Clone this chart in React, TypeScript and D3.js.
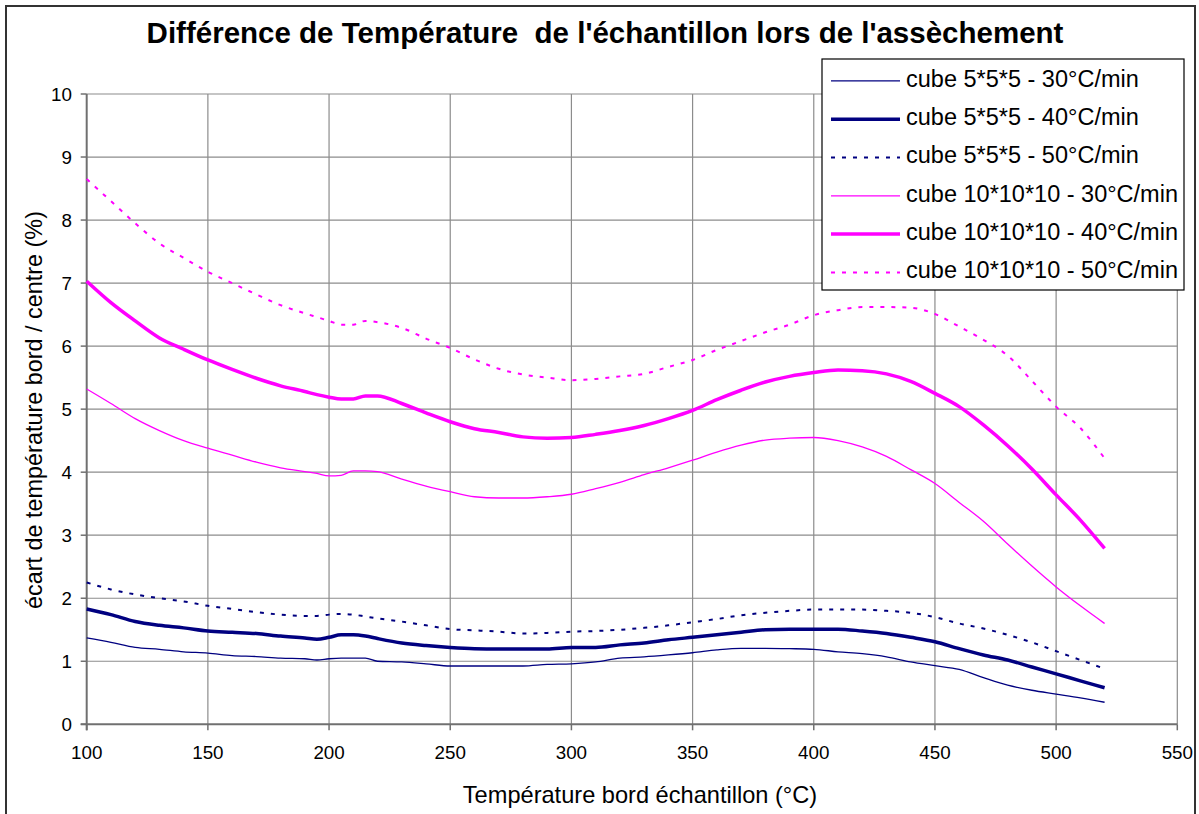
import React from "react";
import * as d3 from "d3";

const temps = [100,110,120,130,140,150,160,170,180,190,195,200,205,210,215,220,230,240,250,260,270,280,290,300,310,320,330,340,350,360,370,380,390,400,410,420,430,440,450,460,470,480,490,500,510,520];

const cube5_30 = [1.37,1.30,1.22,1.19,1.15,1.13,1.09,1.075,1.05,1.04,1.02,1.04,1.05,1.05,1.05,1.00,0.99,0.96,0.925,0.925,0.925,0.925,0.95,0.96,0.99,1.05,1.07,1.10,1.135,1.18,1.205,1.205,1.20,1.19,1.15,1.12,1.07,0.99,0.93,0.87,0.74,0.62,0.54,0.48,0.42,0.35];
const cube5_40 = [1.83,1.74,1.63,1.57,1.53,1.48,1.46,1.44,1.40,1.37,1.35,1.38,1.42,1.42,1.40,1.36,1.29,1.25,1.22,1.20,1.195,1.195,1.195,1.22,1.22,1.26,1.29,1.34,1.38,1.42,1.46,1.50,1.51,1.51,1.51,1.48,1.44,1.38,1.31,1.20,1.10,1.02,0.91,0.80,0.69,0.58];
const cube5_50 = [2.25,2.14,2.06,2.00,1.95,1.88,1.83,1.78,1.74,1.72,1.72,1.74,1.75,1.74,1.71,1.68,1.63,1.57,1.51,1.49,1.47,1.44,1.45,1.47,1.48,1.50,1.53,1.57,1.62,1.67,1.73,1.77,1.80,1.82,1.82,1.82,1.80,1.77,1.70,1.60,1.52,1.42,1.30,1.16,1.02,0.88];
const cube10_30 = [5.32,5.09,4.85,4.66,4.50,4.38,4.27,4.16,4.07,4.01,3.98,3.94,3.95,4.02,4.02,4.01,3.89,3.78,3.69,3.61,3.59,3.59,3.61,3.65,3.74,3.84,3.96,4.07,4.19,4.32,4.43,4.51,4.54,4.55,4.50,4.40,4.25,4.04,3.82,3.52,3.22,2.86,2.51,2.18,1.88,1.60];
const cube10_40 = [7.03,6.69,6.40,6.13,5.95,5.78,5.63,5.49,5.37,5.28,5.23,5.19,5.16,5.16,5.21,5.21,5.09,4.94,4.80,4.69,4.63,4.56,4.54,4.55,4.60,4.66,4.74,4.85,4.98,5.15,5.30,5.43,5.52,5.58,5.62,5.61,5.56,5.44,5.25,5.04,4.75,4.42,4.05,3.64,3.24,2.79];
const cube10_50 = [8.65,8.30,7.95,7.63,7.40,7.18,7.00,6.82,6.65,6.52,6.46,6.40,6.34,6.34,6.40,6.38,6.29,6.12,5.97,5.79,5.64,5.55,5.50,5.46,5.48,5.52,5.56,5.67,5.78,5.94,6.08,6.22,6.34,6.49,6.57,6.62,6.62,6.61,6.51,6.31,6.10,5.85,5.45,5.04,4.70,4.22];

const seriesNames = [
  "cube 5*5*5 - 30°C/min",
  "cube 5*5*5 - 40°C/min",
  "cube 5*5*5 - 50°C/min",
  "cube 10*10*10 - 30°C/min",
  "cube 10*10*10 - 40°C/min",
  "cube 10*10*10 - 50°C/min",
];
const seriesValues = [cube5_30, cube5_40, cube5_50, cube10_30, cube10_40, cube10_50];

const xTicks = [100,150,200,250,300,350,400,450,500,550];
const yTicks = [0,1,2,3,4,5,6,7,8,9,10];

const NAVY = "#000080";
const MAGENTA = "#FF00FF";
const styles = [
  { color: NAVY, width: 1.3, dash: null },
  { color: NAVY, width: 3.5, dash: null },
  { color: NAVY, width: 2, dash: "4 7" },
  { color: MAGENTA, width: 1.3, dash: null },
  { color: MAGENTA, width: 3.5, dash: null },
  { color: MAGENTA, width: 2, dash: "4 7" },
];

const FONT = "'Liberation Sans', Arial, sans-serif";

export default function App() {
  const W = 1199, H = 814;
  const x = d3.scaleLinear().domain([100, 550]).range([86.7, 1177.3]);
  const y = d3.scaleLinear().domain([0, 10]).range([724.3, 94]);
  const line = d3
    .line<number>()
    .x((_, i) => x(temps[i]))
    .y((d) => y(d))
    .curve(d3.curveMonotoneX);

  const legX = 822, legY = 59, legW = 362, legH = 231;
  const rowBase = (i: number) => 86.7 + i * 38.3;

  return (
    <svg
      width={W}
      height={H}
      style={{ position: "absolute", left: 0, top: 0, display: "block" }}
      fontFamily={FONT}
    >
      <rect x={0} y={0} width={W} height={H} fill="#fff" />
      <rect x={6} y={6} width={1189} height={830} fill="#fff" stroke="#333" strokeWidth={2} />

      {/* title */}
      <text
        x={605}
        y={43.3}
        textAnchor="middle"
        fontSize={29.5}
        fontWeight="bold"
        fill="#000"
        style={{ whiteSpace: "pre" }}
      >
        {"Différence de Température  de l'échantillon lors de l'assèchement"}
      </text>

      {/* gridlines */}
      {yTicks.filter((t) => t > 0).map((t) => (
        <line key={"gy" + t} x1={x(100)} x2={x(550)} y1={y(t)} y2={y(t)} stroke="#8c8c8c" strokeWidth={1.2} />
      ))}
      {xTicks.filter((t) => t > 100).map((t) => (
        <line key={"gx" + t} x1={x(t)} x2={x(t)} y1={y(0)} y2={y(10)} stroke="#8c8c8c" strokeWidth={1.2} />
      ))}

      {/* axes */}
      <line x1={x(100)} x2={x(100)} y1={y(0) + 6} y2={y(10)} stroke="#707070" strokeWidth={2} />
      <line x1={x(100) - 6} x2={x(550)} y1={y(0)} y2={y(0)} stroke="#707070" strokeWidth={2} />
      {yTicks.map((t) => (
        <g key={"ty" + t}>
          <line x1={x(100) - 6} x2={x(100)} y1={y(t)} y2={y(t)} stroke="#707070" strokeWidth={1.5} />
          <text x={72} y={y(t) + 6.5} textAnchor="end" fontSize={18.8} fill="#000">
            {t}
          </text>
        </g>
      ))}
      {xTicks.map((t) => (
        <g key={"tx" + t}>
          <line x1={x(t)} x2={x(t)} y1={y(0)} y2={y(0) + 6} stroke="#707070" strokeWidth={1.5} />
          <text x={x(t)} y={759} textAnchor="middle" fontSize={18.8} fill="#000">
            {t}
          </text>
        </g>
      ))}

      {/* axis titles */}
      <text x={640} y={802.7} textAnchor="middle" fontSize={23.6} fill="#000">
        Température bord échantillon (°C)
      </text>
      <text
        transform={`translate(42,410) rotate(-90)`}
        textAnchor="middle"
        fontSize={23.4}
        fill="#000"
      >
        écart de température bord / centre (%)
      </text>

      {/* series */}
      {seriesValues.map((vals, i) => (
        <path
          key={"s" + i}
          d={line(vals) || ""}
          fill="none"
          stroke={styles[i].color}
          strokeWidth={styles[i].width}
          strokeDasharray={styles[i].dash || undefined}
          strokeLinejoin="round"
        />
      ))}

      {/* legend */}
      <rect x={legX} y={legY} width={legW} height={legH} fill="#fff" stroke="#000" strokeWidth={1.2} />
      {seriesNames.map((name, i) => (
        <g key={"l" + i}>
          <line
            x1={831}
            x2={900}
            y1={rowBase(i) - 5.8}
            y2={rowBase(i) - 5.8}
            stroke={styles[i].color}
            strokeWidth={styles[i].width}
            strokeDasharray={styles[i].dash || undefined}
          />
          <text x={906} y={rowBase(i)} fontSize={23.5} fill="#000">
            {name}
          </text>
        </g>
      ))}
    </svg>
  );
}
